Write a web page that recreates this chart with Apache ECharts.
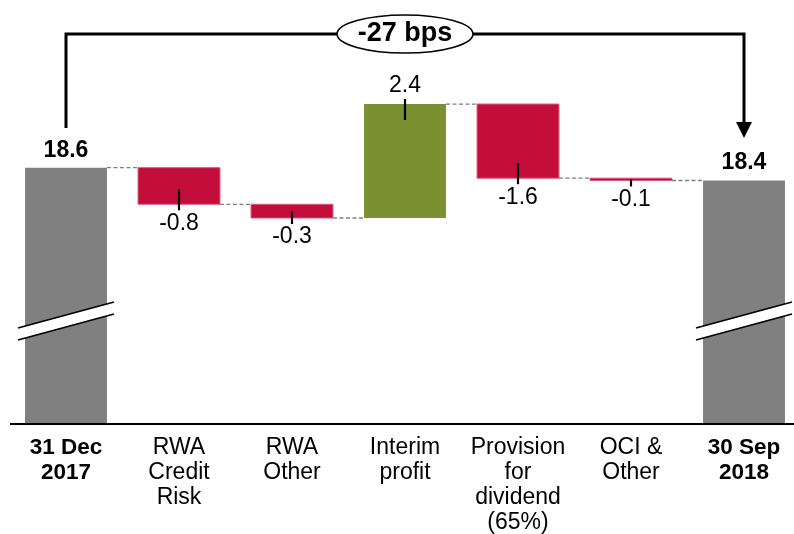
<!DOCTYPE html>
<html>
<head>
<meta charset="utf-8">
<script src="https://cdn.jsdelivr.net/npm/echarts@6/dist/echarts.min.js"></script>
<style>
  html, body { margin: 0; padding: 0; background: #fff; }
  #main { width: 794px; height: 534px; }
</style>
</head>
<body>
<div id="main"></div>
<script>
var categories = ["31 Dec\n2017", "RWA\nCredit\nRisk", "RWA\nOther", "Interim\nprofit", "Provision\nfor\ndividend\n(65%)", "OCI &\nOther", "30 Sep\n2018"];
var startValue = 18.6;
var changes = [-0.80, -0.30, 2.49, -1.62, -0.05];
var endValue = 18.32;
var valueLabels = ["18.6", "-0.8", "-0.3", "2.4", "-1.6", "-0.1", "18.4"];
var totalLabel = "-27 bps";
var axisMin = 13, axisMax = 21;

var FONT = "Liberation Sans, Arial, sans-serif";
var GREY = "#808080", RED = "#c30d3b", GREEN = "#7b9131";

// rows: [category index, from, to]; kinds tell how to paint them
var rows = [[0, axisMin, startValue]];
var kinds = ["total"];
var level = startValue;
changes.forEach(function (c, i) {
  rows.push([i + 1, level, level + c]);
  kinds.push(c < 0 ? "down" : "up");
  level += c;
});
rows.push([categories.length - 1, axisMin, endValue]);
kinds.push("total");

function renderItem(params, api) {
  var idx = params.dataIndex;
  var kind = kinds[idx];
  var p0 = api.coord([api.value(0), api.value(1)]);
  var p1 = api.coord([api.value(0), api.value(2)]);
  var step = api.coord([1, axisMin])[0] - api.coord([0, axisMin])[0];
  var bw = step * 0.725;
  var cx = p0[0];
  var yTop = Math.min(p0[1], p1[1]), yBot = Math.max(p0[1], p1[1]);
  var fill = kind == "total" ? GREY : (kind == "down" ? RED : GREEN);
  var kids = [{
    type: "rect",
    shape: { x: cx - bw / 2, y: yTop, width: bw, height: Math.max(yBot - yTop, 1) },
    style: { fill: fill, stroke: kind == "down" ? "#d9597c" : fill, lineWidth: kind == "down" ? 1 : 0 }
  }];

  // dashed connector to next bar
  if (idx < rows.length - 1) {
    kids.push({
      type: "line",
      shape: { x1: cx + bw / 2, y1: p1[1], x2: cx + step - bw / 2, y2: p1[1] },
      style: { stroke: "#7f7f7f", lineWidth: 1.3, lineDash: [4, 2.5] }
    });
  }

  if (kind == "total") {
    kids.push({
      type: "text",
      style: { text: valueLabels[idx], x: cx, y: yTop - 17.5, align: "center", verticalAlign: "middle",
               font: "bold 23px " + FONT, fill: "#000" }
    });
    // axis break mark
    var yc = p0[1] - 103;
    var dy = 12;
    kids.push({
      type: "polygon",
      shape: { points: [[cx - 48, yc + 7], [cx + 48, yc - 19], [cx + 48, yc - 19 + dy], [cx - 48, yc + 7 + dy]] },
      style: { fill: "#fff" }
    });
    kids.push({ type: "line", shape: { x1: cx - 48, y1: yc + 7, x2: cx + 48, y2: yc - 19 },
                style: { stroke: "#000", lineWidth: 1.8 } });
    kids.push({ type: "line", shape: { x1: cx - 48, y1: yc + 7 + dy, x2: cx + 48, y2: yc - 19 + dy },
                style: { stroke: "#000", lineWidth: 1.8 } });
  } else {
    var mid = (yTop + yBot) / 2;
    var edge = p1[1];
    var t1, t2, ly;
    if (kind == "down") {
      t1 = Math.max(mid, edge - 15); t2 = edge + 6; ly = edge + 19;
    } else {
      t1 = edge - 5; t2 = Math.min(mid, edge + 16); ly = edge - 18;
    }
    kids.push({ type: "line", shape: { x1: cx, y1: t1, x2: cx, y2: t2 },
                style: { stroke: "#000", lineWidth: 2.2 } });
    kids.push({
      type: "text",
      style: { text: valueLabels[idx], x: cx, y: ly, align: "center", verticalAlign: "middle",
               font: "23px " + FONT, fill: "#000" }
    });
  }
  return { type: "group", children: kids };
}

var chart = echarts.init(document.getElementById("main"));
// category centres sit on the grid edges, so the bars may run past it
var option = {
  animation: false,
  grid: { left: 66, right: 50, top: 57.8, bottom: 109, containLabel: false },
  xAxis: {
    type: "category",
    data: categories,
    boundaryGap: false,
    axisLine: { show: false },
    axisTick: { show: false },
    splitLine: { show: false },
    axisLabel: {
      interval: 0,
      margin: 11,
      formatter: function (v, i) {
        var st = (i == 0 || i == categories.length - 1) ? "b" : "n";
        return v.split("\n").map(function (s) { return "{" + st + "|" + s + "}"; }).join("\n");
      },
      rich: {
        b: { fontFamily: FONT, fontSize: 22.5, fontWeight: "bold", lineHeight: 25, color: "#000" },
        n: { fontFamily: FONT, fontSize: 23, lineHeight: 25, color: "#000" }
      }
    }
  },
  yAxis: { type: "value", min: axisMin, max: axisMax, show: false, splitLine: { show: false } },
  series: [{
    type: "custom",
    renderItem: renderItem,
    encode: { x: 0, y: [1, 2] },
    data: rows,
    clip: false,
    z: 2
  }]
};
chart.setOption(option);

// base line and bracket with the overall change
var xl = chart.convertToPixel({ gridIndex: 0 }, [0, startValue])[0];
var xr = chart.convertToPixel({ gridIndex: 0 }, [categories.length - 1, endValue])[0];
var yBase = chart.convertToPixel({ gridIndex: 0 }, [0, axisMin])[1];
var yLine = 34;
chart.setOption({
  graphic: [
    { type: "line", shape: { x1: 10, y1: yBase, x2: 794, y2: yBase },
      style: { stroke: "#000", lineWidth: 2 }, z: 10 },
    { type: "polyline", shape: { points: [[xl, 128], [xl, yLine], [xr, yLine], [xr, 124]] },
      style: { stroke: "#000", lineWidth: 3, fill: null }, z: 10 },
    { type: "polygon", shape: { points: [[xr - 8, 122], [xr + 8, 122], [xr, 138]] },
      style: { fill: "#000" }, z: 10 },
    { type: "ellipse", shape: { cx: (xl + xr) / 2, cy: yLine, rx: 68, ry: 19 },
      style: { fill: "#fff", stroke: "#000", lineWidth: 1.6 }, z: 11 },
    { type: "text", x: (xl + xr) / 2, y: yLine,
      style: { text: totalLabel, align: "center", verticalAlign: "middle",
               font: "bold 27px " + FONT, fill: "#000" }, z: 12 }
  ]
});
</script>
</body>
</html>
